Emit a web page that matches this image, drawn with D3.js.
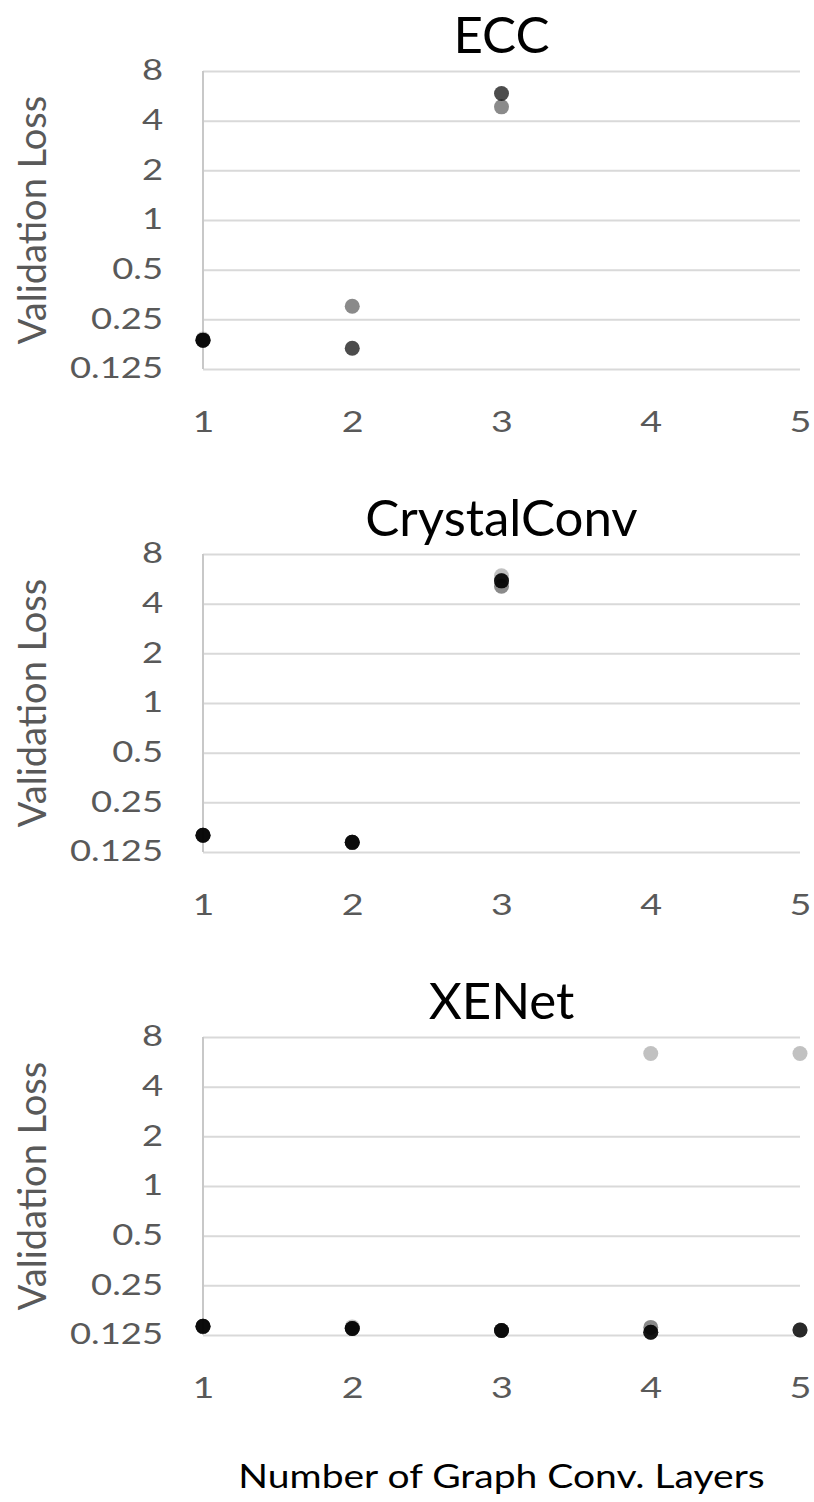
<!DOCTYPE html>
<html>
<head>
<meta charset="utf-8">
<script src="https://cdn.jsdelivr.net/npm/d3@7"></script>
<style>
  body { margin: 0; background: #fff; }
  text { font-family: Lato, "Open Sans", sans-serif; }
</style>
</head>
<body>
<div id="chart"></div>
<script>
// x categories and y ticks
const layers = [1, 2, 3, 4, 5];
const yTicks = [0.125, 0.25, 0.5, 1, 2, 4, 8];
const yTickLabels = ["0.125", "0.25", "0.5", "1", "2", "4", "8"];
const panelTitles = ["ECC", "CrystalConv", "XENet"];

// one row per run, one value per layer count (null = no run)
const seriesColors = ["#a6a6a6", "#595959", "#000000", "#000000"];

const eccLoss = [
  [0.19, null, null, null, null],
  [0.187, 0.30, 4.85, null, null],
  [0.187, 0.167, 5.84, null, null],
  [0.187, null, null, null, null]
];
const crystalLoss = [
  [null, null, 5.9, null, null],
  [0.158, 0.143, 5.1, null, null],
  [0.158, 0.143, 5.5, null, null],
  [0.158, 0.143, 5.5, null, null]
];
const xenetLoss = [
  [null, 0.140, null, 6.35, 6.35],
  [0.141, 0.137, 0.133, 0.139, 0.134],
  [0.141, 0.137, 0.133, 0.130, 0.134],
  [0.141, 0.137, 0.133, 0.130, null]
];
const panelData = [eccLoss, crystalLoss, xenetLoss];

function drawChart(width, height, selector) {

  let margin = { left: 203, right: 14 };
  let plotWidth = width - margin.left - margin.right;
  let plotHeight = 298;
  let panelTops = [71, 554, 1037];
  let stretch = 1.3; // tick labels in the original are wide

  let svg = d3.select(selector)
    .append("svg")
    .attr("width", width)
    .attr("height", height);

  let x = d3.scaleLinear().domain([1, 5]).range([0, plotWidth]);
  let y = d3.scaleLog().base(2).domain([0.125, 8]).range([plotHeight, 0]);

  panelData.forEach((runs, i) => {
    let g = svg.append("g")
      .attr("transform", "translate(" + margin.left + "," + panelTops[i] + ")");

    // gridlines + y labels
    let yAxis = g.append("g")
      .call(d3.axisLeft(y)
        .tickValues(yTicks)
        .tickFormat((d, j) => yTickLabels[j])
        .tickSize(-plotWidth)
        .tickPadding(40));
    yAxis.select(".domain").remove();
    yAxis.selectAll("line")
      .attr("stroke", "#d9d9d9")
      .attr("stroke-width", 2);
    yAxis.selectAll("text")
      .attr("fill", "#595959")
      .attr("font-size", 28)
      .attr("x", -40 / stretch)
      .attr("transform", "scale(" + stretch + ",1)");

    // left axis line
    g.append("line")
      .attr("x1", 0).attr("x2", 0)
      .attr("y1", 0).attr("y2", plotHeight)
      .attr("stroke", "#c8c8c8")
      .attr("stroke-width", 2);

    // x labels
    let xAxis = g.append("g")
      .attr("transform", "translate(0," + plotHeight + ")")
      .call(d3.axisBottom(x).tickValues(layers).tickFormat(d3.format("d")).tickSize(0).tickPadding(42));
    xAxis.select(".domain").remove();
    xAxis.selectAll("text")
      .attr("fill", "#595959")
      .attr("font-size", 29)
      .attr("transform", "scale(" + stretch + ",1)");

    // title
    g.append("text")
      .attr("x", x(3))
      .attr("y", -18)
      .attr("text-anchor", "middle")
      .attr("font-size", 51)
      .attr("fill", "#000")
      .text(panelTitles[i]);

    // y axis title
    g.append("text")
      .attr("transform", "translate(" + (-172) + "," + (plotHeight / 2) + ") rotate(-90)")
      .attr("text-anchor", "middle")
      .attr("dominant-baseline", "central")
      .attr("font-size", 38)
      .attr("fill", "#595959")
      .text("Validation Loss");

    // points
    runs.forEach((vals, s) => {
      let pts = layers.map((l, k) => ({ layer: l, loss: vals[k] }))
        .filter(d => d.loss != null);
      g.append("g")
        .selectAll("circle")
        .data(pts)
        .join("circle")
        .attr("cx", d => x(d.layer))
        .attr("cy", d => y(d.loss))
        .attr("r", 7.5)
        .attr("fill", seriesColors[s])
        .attr("fill-opacity", 0.7);
    });
  });

  svg.append("text")
    .attr("transform", "translate(" + (margin.left + plotWidth / 2) + ",1476) scale(1.22,1)")
    .attr("text-anchor", "middle")
    .attr("dominant-baseline", "central")
    .attr("font-size", 32)
    .attr("fill", "#000")
    .text("Number of Graph Conv. Layers");
}

drawChart(814, 1502, "#chart");
</script>
</body>
</html>
